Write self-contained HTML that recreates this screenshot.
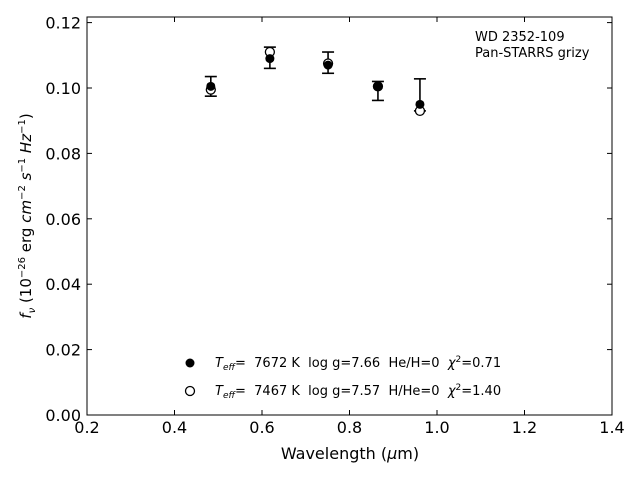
<!DOCTYPE html>
<html><head><meta charset="utf-8"><style>
body{margin:0;background:#fff}
svg{display:block;font-family:"DejaVu Sans","Liberation Sans",sans-serif}
text{white-space:pre}
</style></head><body>
<svg id="c" width="640" height="480" xmlns="http://www.w3.org/2000/svg" xml:space="preserve">
<rect x="87" y="17" width="525" height="398" fill="none" stroke="#000" stroke-width="1"/>
<g id="ticks"></g>
<g id="marks"></g>
<text x="350" y="459" font-size="16" text-anchor="middle">Wavelength (<tspan font-style="italic">μ</tspan>m)</text>
<text transform="translate(31,216) rotate(-90)" font-size="15" text-anchor="middle"><tspan font-style="italic">f<tspan font-size="10" dy="4">ν</tspan></tspan><tspan dy="-4"> (10</tspan><tspan font-size="10" dy="-6">−26</tspan><tspan dy="6"> erg </tspan><tspan font-style="italic">cm</tspan><tspan font-size="10" dy="-6">−2</tspan><tspan dy="6" font-style="italic"> s</tspan><tspan font-size="10" dy="-6">−1</tspan><tspan dy="6" font-style="italic"> Hz</tspan><tspan font-size="10" dy="-6">−1</tspan><tspan dy="6">)</tspan></text>
<text x="475" y="41" font-size="13">WD 2352-109</text>
<text x="475" y="57" font-size="13">Pan-STARRS grizy</text>
<g>
<circle cx="190" cy="363" r="4.5" fill="#000"/>
<text x="215" y="367" font-size="13"><tspan font-style="italic">T<tspan font-size="9" dy="3">eff</tspan></tspan><tspan dy="-3">=  7672 K  log g=7.66  He/H=0  </tspan><tspan font-style="italic">χ</tspan><tspan font-size="9" dy="-5">2</tspan><tspan dy="5">=0.71</tspan></text>
<circle cx="190" cy="391" r="4.5" fill="#fff" stroke="#000" stroke-width="1.3"/>
<text x="215" y="395" font-size="13"><tspan font-style="italic">T<tspan font-size="9" dy="3">eff</tspan></tspan><tspan dy="-3">=  7467 K  log g=7.57  H/He=0  </tspan><tspan font-style="italic">χ</tspan><tspan font-size="9" dy="-5">2</tspan><tspan dy="5">=1.40</tspan></text>
</g>
</svg>
<script>
const wavelengths=[0.483,0.618,0.751,0.865,0.961];
const observedFlux=[0.1005,0.109,0.107,0.1005,0.095];
const errLow=[0.0975,0.106,0.1045,0.0962,0.093];
const errHigh=[0.1035,0.1125,0.111,0.102,0.1028];
const modelFlux=[0.0995,0.111,0.1075,0.1005,0.093];
const xTicks=[0.2,0.4,0.6,0.8,1.0,1.2,1.4];
const xTickLabels=["0.2","0.4","0.6","0.8","1.0","1.2","1.4"];
const yTicks=[0,0.02,0.04,0.06,0.08,0.10,0.12];
const yTickLabels=["0.00","0.02","0.04","0.06","0.08","0.10","0.12"];
const NS="http://www.w3.org/2000/svg";
const X=v=>87+(v-0.2)/1.2*525;
const Y=v=>415-v*3270;
function mk(t,a,p){const e=document.createElementNS(NS,t);for(const k in a)e.setAttribute(k,a[k]);p.appendChild(e);return e;}
const tg=document.getElementById('ticks'),mg=document.getElementById('marks');
xTicks.forEach((v,i)=>{
 const l=mk('line',{x1:X(v),x2:X(v),y1:415,y2:410,stroke:'#000'},tg);
 
 
 const l2=mk('line',{x1:X(v),x2:X(v),y1:17,y2:22,stroke:'#000'},tg);
 
 
 const t=mk('text',{x:X(v),y:433,'font-size':16,'text-anchor':'middle'},tg);t.textContent=xTickLabels[i];
 
 
});
yTicks.forEach((v,i)=>{
 const l=mk('line',{x1:87,x2:92,y1:Y(v),y2:Y(v),stroke:'#000'},tg);
 
 
 const l2=mk('line',{x1:612,x2:607,y1:Y(v),y2:Y(v),stroke:'#000'},tg);
 
 
 const t=mk('text',{x:81,y:Y(v)+6,'font-size':16,'text-anchor':'end'},tg);t.textContent=yTickLabels[i];
 
 
});
wavelengths.forEach((w,i)=>{
 const x=X(w);
 const g=mk('g',{},mg);
 
 
 mk('line',{x1:x,x2:x,y1:Y(errLow[i]),y2:Y(errHigh[i]),stroke:'#000','stroke-width':1.6},g);
 mk('line',{x1:x-6,x2:x+6,y1:Y(errLow[i]),y2:Y(errLow[i]),stroke:'#000','stroke-width':1.6},g);
 mk('line',{x1:x-6,x2:x+6,y1:Y(errHigh[i]),y2:Y(errHigh[i]),stroke:'#000','stroke-width':1.6},g);
 const o=mk('circle',{cx:x,cy:Y(modelFlux[i]),r:4.5,fill:'#fff',stroke:'#000','stroke-width':1.3},mg);
 
 
 const f=mk('circle',{cx:x,cy:Y(observedFlux[i]),r:4.5,fill:'#000'},mg);
 
 
});
</script>
</body></html>
